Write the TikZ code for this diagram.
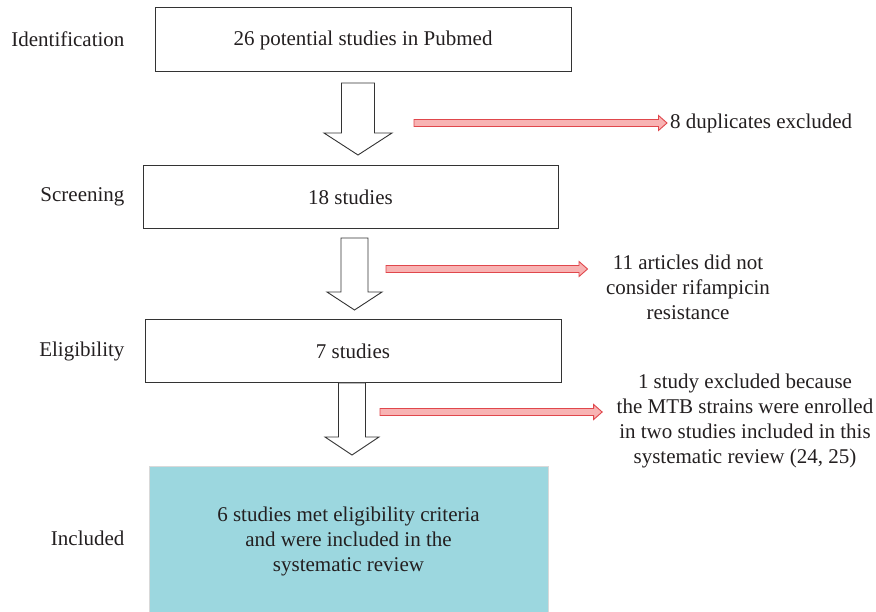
\documentclass[tikz,border=0pt]{standalone}
\usepackage{fontspec}
\setmainfont{Liberation Serif}
\usetikzlibrary{calc}
\definecolor{boxline}{HTML}{333333}
\definecolor{tealfill}{HTML}{9CD7DF}
\definecolor{redline}{HTML}{E0474C}
\definecolor{redfill}{HTML}{F8B3B3}
\definecolor{txt}{HTML}{231F20}

\begin{document}
\begin{tikzpicture}[
            x=1pt, y=-1pt,
            every node/.style={font=\fontsize{21}{25}\selectfont, text=txt},
            stagebox/.style={draw=boxline, line width=1pt, minimum height=63pt},
            stagename/.style={anchor=east},
            bigarrow/.style={draw=boxline, fill=white, line width=0.9pt},
            exclarrow/.style={draw=redline, fill=redfill, line width=0.9pt},
        ]
            \useasboundingbox (0, 0) rectangle (876, 612);
            % stages
            \node[stagename] (ident) at (128, 39) {Identification};
            \node[stagename] (screen) at (128, 197) {Screening};
            \node[stagename] (elig) at (128, 351) {Eligibility};
            \node[stagename] (incl) at (128, 538) {Included};
            % boxes
            \node[stagebox, minimum width=416pt, minimum height=64pt] (pubmed) at (363, 40) {26 potential studies in Pubmed};
            \node[stagebox, minimum width=415pt] (eighteen) at (350.5, 197.5) {18 studies};
            \node[stagebox, minimum width=416pt] (seven) at (353, 351.5) {7 studies};
            \node[draw=black!15, fill=tealfill, minimum width=399pt, minimum height=150pt, align=center] (six) at (348.5, 541)
                {6 studies met eligibility criteria\\and were included in the\\systematic review};
            % excluded
            \node[anchor=west, inner sep=3pt] (dupl) at (667, 123) {8 duplicates excluded};
            \node[align=center] (rifa) at (688, 287) {11 articles did not\\consider rifampicin\\resistance};
            \node[align=center] (mtb) at (745, 421) {1 study excluded because\\the MTB strains were enrolled\\in two studies included in this\\systematic review (24, 25)};
            % down arrows
            \coordinate (t1) at (358, 83);
            \coordinate (h1) at (358, 155);
            \coordinate (t2) at (354.5, 238);
            \coordinate (h2) at (354.5, 310);
            \coordinate (t3) at (352, 383);
            \coordinate (h3) at (352, 455);
            \draw[bigarrow] let \p1=(t1), \p2=(h1) in (\x1-16.5pt, \y1) -- (\x1-16.5pt, \y2+22pt) -- (\x1-34pt, \y2+22pt) -- (\x2, \y2)
                -- (\x1+34pt, \y2+22pt) -- (\x1+16.5pt, \y2+22pt) -- (\x1+16.5pt, \y1) -- cycle;
            \draw[bigarrow] let \p1=(t2), \p2=(h2) in (\x1-13.5pt, \y1) -- (\x1-13.5pt, \y2+18pt) -- (\x1-27.5pt, \y2+18pt) -- (\x2, \y2)
                -- (\x1+27.5pt, \y2+18pt) -- (\x1+13.5pt, \y2+18pt) -- (\x1+13.5pt, \y1) -- cycle;
            \draw[bigarrow] let \p1=(t3), \p2=(h3) in (\x1-13.5pt, \y1) -- (\x1-13.5pt, \y2+18pt) -- (\x1-27pt, \y2+18pt) -- (\x2, \y2)
                -- (\x1+27pt, \y2+18pt) -- (\x1+13.5pt, \y2+18pt) -- (\x1+13.5pt, \y1) -- cycle;
            % red arrows
            \coordinate (s1) at (414, 123);
            \coordinate (e1) at (dupl.west);
            \coordinate (s2) at (386, 269);
            \coordinate (e2) at ([xshift=-15pt]rifa.west |- s2);
            \coordinate (s3) at (380, 412);
            \coordinate (e3) at ([xshift=-11pt]mtb.west |- s3);
            \foreach \s/\e in {s1/e1, s2/e2, s3/e3}
                \draw[exclarrow] let \p1=(\s), \p2=(\e) in (\x1, \y1+3.5pt) -- (\x2-8.5pt, \y1+3.5pt) -- (\x2-8.5pt, \y1+7.5pt) -- (\x2, \y1)
                    -- (\x2-8.5pt, \y1-7.5pt) -- (\x2-8.5pt, \y1-3.5pt) -- (\x1, \y1-3.5pt) -- cycle;
        \end{tikzpicture}
\end{document}
